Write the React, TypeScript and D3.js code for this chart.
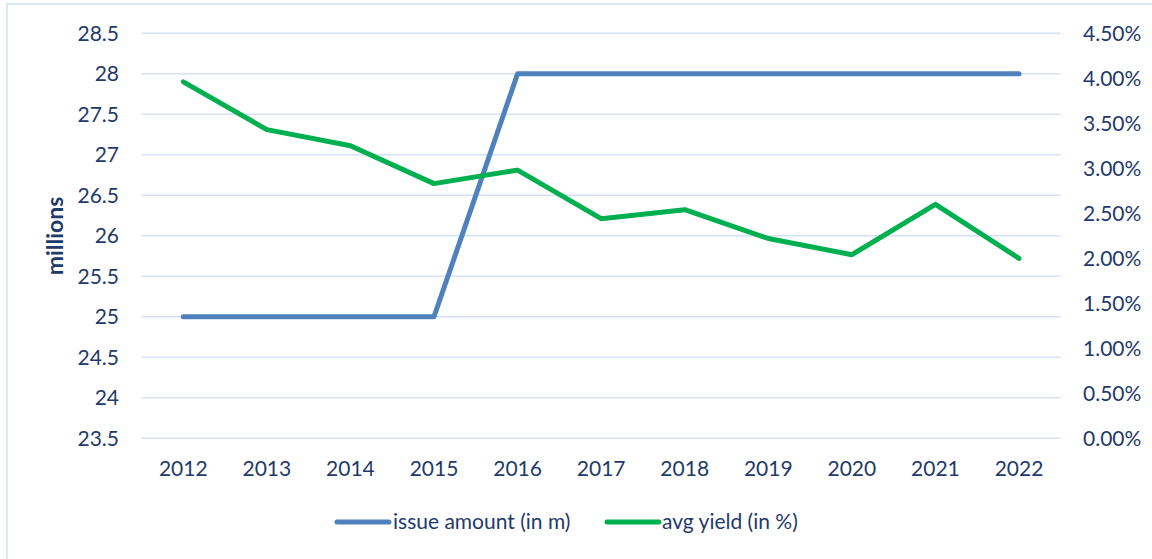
import React from "react";
import * as d3 from "d3";

const years = ["2012", "2013", "2014", "2015", "2016", "2017", "2018", "2019", "2020", "2021", "2022"];
const issueAmount = [25, 25, 25, 25, 28, 28, 28, 28, 28, 28, 28];
const avgYield = [3.96, 3.43, 3.25, 2.83, 2.98, 2.44, 2.54, 2.22, 2.04, 2.6, 2.0];
const leftTicks = [23.5, 24, 24.5, 25, 25.5, 26, 26.5, 27, 27.5, 28, 28.5];
const rightTicks = [0, 0.5, 1, 1.5, 2, 2.5, 3, 3.5, 4, 4.5];

const W = 1152;
const H = 559;
const TEXT = "#1f3a6b";
const FONT = "Lato, 'Open Sans', sans-serif";

export default function App() {
  const x = d3.scaleBand<string>().domain(years).range([141.5, 1060.8]);
  const yL = d3.scaleLinear().domain([23.5, 28.5]).range([438.3, 33.3]);
  const yR = d3.scaleLinear().domain([0, 4.5]).range([438.3, 33.3]);
  const cx = (d: string) => (x(d) as number) + x.bandwidth() / 2;

  const lineL = d3.line<number>().x((_, i) => cx(years[i])).y((d) => yL(d));
  const lineR = d3.line<number>().x((_, i) => cx(years[i])).y((d) => yR(d));

  return (
    <svg width={W} height={H} style={{ position: "absolute", left: 0, top: 0, background: "#fff" }}>
      <rect x={7} y={4} width={W + 10} height={H + 10} fill="#fff" stroke="#cfdff2" strokeWidth={1.5} />
      {leftTicks.map((t) => (
        <line key={t} x1={141.5} x2={1060.8} y1={yL(t)} y2={yL(t)} stroke="#d6e2f3" strokeWidth={1.5} />
      ))}
      {leftTicks.map((t) => (
        <text key={"l" + t} x={119} y={yL(t)} dy="0.35em" textAnchor="end" fontFamily={FONT} fontSize={21} fill={TEXT}>
          {String(t)}
        </text>
      ))}
      {rightTicks.map((t) => (
        <text key={"r" + t} x={1083} y={yR(t)} dy="0.35em" textAnchor="start" fontFamily={FONT} fontSize={21} fill={TEXT}>
          {t.toFixed(2) + "%"}
        </text>
      ))}
      {years.map((yv) => (
        <text key={yv} x={cx(yv)} y={469} dy="0.35em" textAnchor="middle" fontFamily={FONT} fontSize={21} fill={TEXT}>
          {yv}
        </text>
      ))}
      <text
        transform="translate(55,236) rotate(-90)"
        textAnchor="middle"
        dy="0.35em"
        fontFamily={FONT}
        fontSize={23}
        fontWeight="bold"
        fill={TEXT}
      >
        millions
      </text>
      <path d={lineL(issueAmount) || ""} fill="none" stroke="#4f81bd" strokeWidth={5} strokeLinecap="round" strokeLinejoin="round" />
      <path d={lineR(avgYield) || ""} fill="none" stroke="#00b050" strokeWidth={5} strokeLinecap="round" strokeLinejoin="round" />
      <line x1={337} x2={389} y1={522} y2={522} stroke="#4f81bd" strokeWidth={5} strokeLinecap="round" />
      <text x={393} y={522} dy="0.35em" fontFamily={FONT} fontSize={21} fill={TEXT}>
        issue amount (in m)
      </text>
      <line x1={607} x2={659} y1={522} y2={522} stroke="#00b050" strokeWidth={5} strokeLinecap="round" />
      <text x={662} y={522} dy="0.35em" fontFamily={FONT} fontSize={21} fill={TEXT}>
        avg yield (in %)
      </text>
    </svg>
  );
}
